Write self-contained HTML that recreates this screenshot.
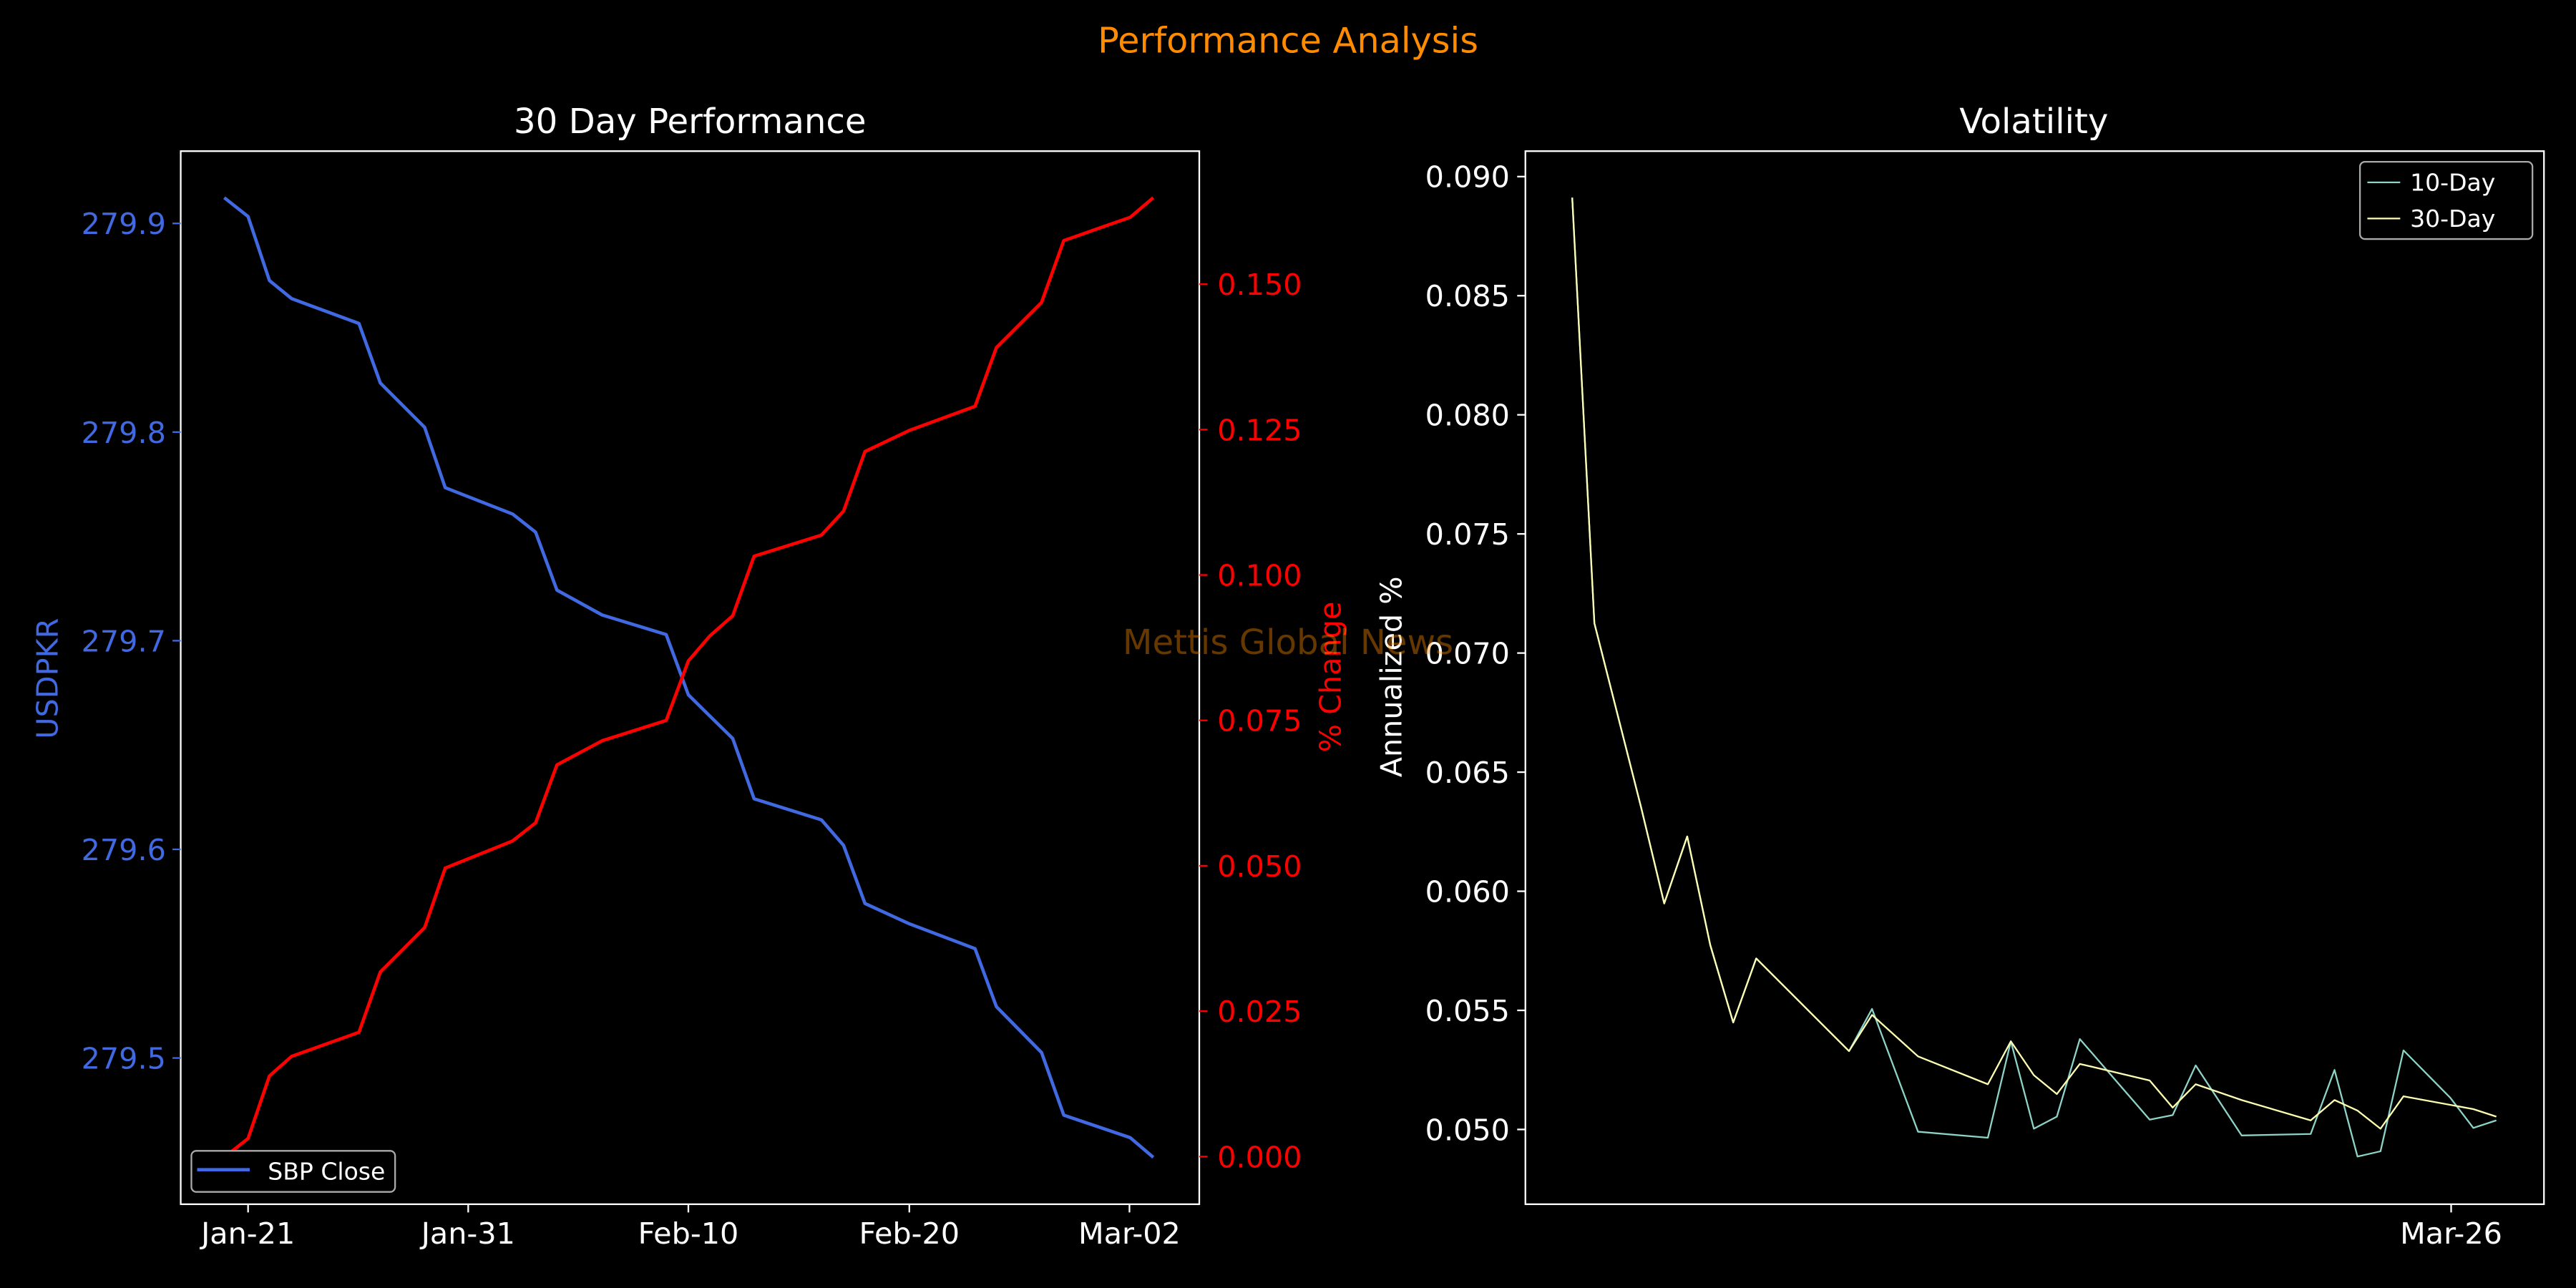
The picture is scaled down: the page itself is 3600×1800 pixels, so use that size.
<!DOCTYPE html>
<html><head><meta charset="utf-8"><style>html,body{margin:0;padding:0;background:#000;}svg{display:block;}</style></head>
<body>
<svg width="3600" height="1800" viewBox="0 0 1568 784" xmlns="http://www.w3.org/2000/svg" font-family="DejaVu Sans, Liberation Sans, sans-serif">
<rect width="1568" height="784" fill="#000"/>
<text x="784" y="32" fill="#ff8c00" font-size="21.5" text-anchor="middle">Performance Analysis</text>
<text x="420" y="81" fill="#fff" font-size="21" text-anchor="middle">30 Day Performance</text>
<text x="1238" y="81" fill="#fff" font-size="21" text-anchor="middle">Volatility</text>

<g transform="translate(0,65.3) scale(0.5,0.4585)" fill="none" stroke-width="4.6" stroke-linejoin="round">
<polyline vector-effect="non-scaling-stroke" stroke="#4169e1" points="273,120 302,145 328,230 355,254 437,287 463,366 517,425 542,505 624,540 652,564 678,641 733,674 811,700 838,780 864,808 892,838 918,918 1000,946 1027,980 1053,1057 1107,1084 1187,1117 1213,1194 1268,1255 1295,1338 1376,1368 1404,1394"/>
<polyline vector-effect="non-scaling-stroke" stroke="#ff0000" points="273,1394 302,1369 328,1286 355,1260 437,1228 463,1148 517,1089 542,1010 624,974 652,950 678,873 733,841 811,814 838,735 864,702 892,675 918,596 1000,568 1027,536 1053,457 1107,429 1187,397 1213,319 1268,259 1295,177 1376,146 1404,120"/>
</g>
<rect x="110" y="92" width="620" height="641" fill="none" stroke="#fff" stroke-width="1"/>
<g fill="#4169e1" font-size="18" text-anchor="end" stroke="#4169e1">
<line x1="105" y1="136" x2="110" y2="136"/><text x="101" y="142.5" stroke="none">279.9</text>
<line x1="105" y1="263" x2="110" y2="263"/><text x="101" y="269.5" stroke="none">279.8</text>
<line x1="105" y1="390" x2="110" y2="390"/><text x="101" y="396.5" stroke="none">279.7</text>
<line x1="105" y1="517" x2="110" y2="517"/><text x="101" y="523.5" stroke="none">279.6</text>
<line x1="105" y1="644" x2="110" y2="644"/><text x="101" y="650.5" stroke="none">279.5</text>
</g>
<text transform="translate(35,413) rotate(-90)" fill="#4169e1" font-size="18" text-anchor="middle">USDPKR</text>
<g fill="#ff0000" font-size="18" stroke="#ff0000">
<line x1="730" y1="173" x2="735" y2="173"/><text x="741" y="179.5" stroke="none">0.150</text>
<line x1="730" y1="261.5" x2="735" y2="261.5"/><text x="741" y="268" stroke="none">0.125</text>
<line x1="730" y1="350" x2="735" y2="350"/><text x="741" y="356.5" stroke="none">0.100</text>
<line x1="730" y1="438.5" x2="735" y2="438.5"/><text x="741" y="445" stroke="none">0.075</text>
<line x1="730" y1="527" x2="735" y2="527"/><text x="741" y="533.5" stroke="none">0.050</text>
<line x1="730" y1="615.5" x2="735" y2="615.5"/><text x="741" y="622" stroke="none">0.025</text>
<line x1="730" y1="704" x2="735" y2="704"/><text x="741" y="710.5" stroke="none">0.000</text>
</g>
<text transform="translate(816,412) rotate(-90)" fill="#ff0000" font-size="18" text-anchor="middle">% Change</text>
<g fill="#fff" font-size="18" text-anchor="middle" stroke="#fff">
<line x1="151" y1="733" x2="151" y2="738"/><text x="151" y="757" stroke="none">Jan-21</text>
<line x1="285" y1="733" x2="285" y2="738"/><text x="285" y="757" stroke="none">Jan-31</text>
<line x1="419" y1="733" x2="419" y2="738"/><text x="419" y="757" stroke="none">Feb-10</text>
<line x1="553.5" y1="733" x2="553.5" y2="738"/><text x="553.5" y="757" stroke="none">Feb-20</text>
<line x1="687.5" y1="733" x2="687.5" y2="738"/><text x="687.5" y="757" stroke="none">Mar-02</text>
</g>
<rect x="116.5" y="700.5" width="124" height="25" rx="3" fill="#000" stroke="#aaa" stroke-width="1"/>
<line x1="120" y1="712" x2="152" y2="712" stroke="#4169e1" stroke-width="2"/>
<text x="163" y="718" fill="#fff" font-size="14.4">SBP Close</text>

<g transform="translate(784,65.3) scale(0.5,0.4585)" fill="none" stroke-width="2.3" stroke-linejoin="round">
<polyline vector-effect="non-scaling-stroke" stroke="#8dd3c7" points="346,120 373,685 430,930 458,1057 486,968 514,1112 542,1215 570,1130 683,1253 711,1197 767,1360 852,1368 880,1240 908,1356 936,1340 964,1237 1049,1344 1077,1338 1105,1272 1161,1365 1245,1363 1274,1278 1302,1393 1330,1386 1358,1252 1415,1315 1443,1355 1471,1345"/>
<polyline vector-effect="non-scaling-stroke" stroke="#ffffb3" points="346,120 373,685 430,930 458,1057 486,968 514,1112 542,1215 570,1130 683,1253 711,1205 767,1260 852,1297 880,1240 908,1285 936,1310 964,1270 1049,1292 1077,1328 1105,1297 1161,1318 1245,1345 1274,1318 1302,1332 1330,1356 1358,1313 1443,1330 1471,1340"/>
</g>
<rect x="928.5" y="92" width="620" height="641" fill="none" stroke="#fff" stroke-width="1"/>
<g fill="#fff" font-size="18" text-anchor="end" stroke="#fff">
<line x1="923.5" y1="107.5" x2="928.5" y2="107.5"/><text x="919" y="114" stroke="none">0.090</text>
<line x1="923.5" y1="180" x2="928.5" y2="180"/><text x="919" y="186.5" stroke="none">0.085</text>
<line x1="923.5" y1="252.5" x2="928.5" y2="252.5"/><text x="919" y="259" stroke="none">0.080</text>
<line x1="923.5" y1="325" x2="928.5" y2="325"/><text x="919" y="331.5" stroke="none">0.075</text>
<line x1="923.5" y1="397.5" x2="928.5" y2="397.5"/><text x="919" y="404" stroke="none">0.070</text>
<line x1="923.5" y1="470" x2="928.5" y2="470"/><text x="919" y="476.5" stroke="none">0.065</text>
<line x1="923.5" y1="542.5" x2="928.5" y2="542.5"/><text x="919" y="549" stroke="none">0.060</text>
<line x1="923.5" y1="615" x2="928.5" y2="615"/><text x="919" y="621.5" stroke="none">0.055</text>
<line x1="923.5" y1="687.5" x2="928.5" y2="687.5"/><text x="919" y="694" stroke="none">0.050</text>
</g>
<text transform="translate(853,412) rotate(-90)" fill="#fff" font-size="18" text-anchor="middle">Annualized %</text>
<line x1="1492" y1="733" x2="1492" y2="738" stroke="#fff"/>
<text x="1492" y="757" fill="#fff" font-size="18" text-anchor="middle">Mar-26</text>
<rect x="1436.5" y="98.5" width="105" height="47" rx="3" fill="#000" stroke="#aaa" stroke-width="1"/>
<line x1="1441" y1="111" x2="1461" y2="111" stroke="#8dd3c7" stroke-width="1"/>
<text x="1467" y="116" fill="#fff" font-size="14.4">10-Day</text>
<line x1="1441" y1="133" x2="1461" y2="133" stroke="#ffffb3" stroke-width="1"/>
<text x="1467" y="138" fill="#fff" font-size="14.4">30-Day</text>

<text x="784" y="398" fill="#ff8c00" fill-opacity="0.4" font-size="21" text-anchor="middle">Mettis Global News</text>
</svg>
</body></html>
